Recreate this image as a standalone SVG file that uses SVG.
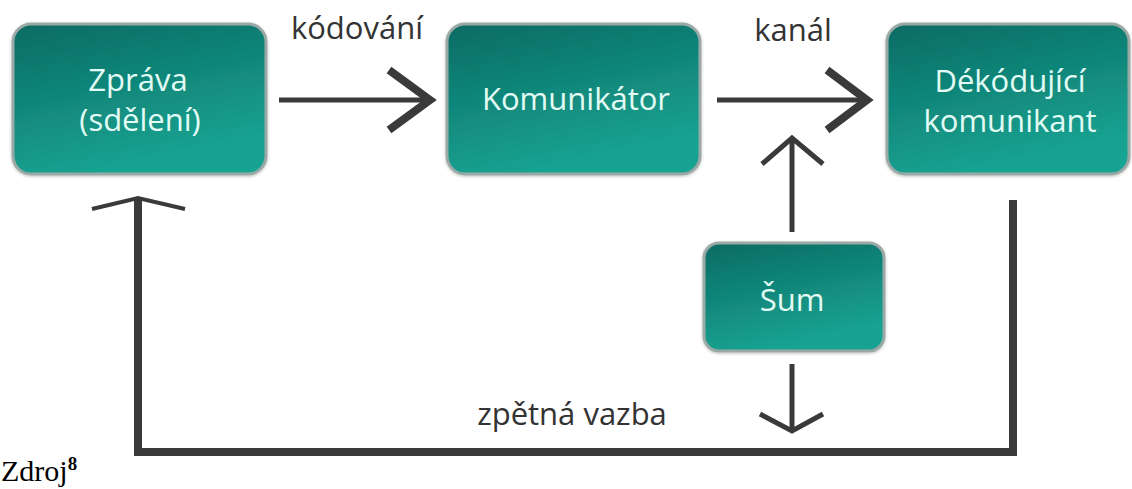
<svg xmlns="http://www.w3.org/2000/svg" width="1132" height="489" viewBox="0 0 1132 489">
  <defs>
    <linearGradient id="teal" x1="0" y1="0" x2="0.35" y2="1">
      <stop offset="0" stop-color="#0c6b63"/>
      <stop offset="1" stop-color="#16a392"/>
    </linearGradient>
    <filter id="soft" x="-10%" y="-10%" width="120%" height="120%">
      <feGaussianBlur in="SourceAlpha" stdDeviation="1.5"/>
      <feOffset dx="0" dy="1" result="b"/>
      <feFlood flood-color="#000" flood-opacity="0.25"/>
      <feComposite in2="b" operator="in"/>
      <feMerge><feMergeNode/><feMergeNode in="SourceGraphic"/></feMerge>
    </filter>
  </defs>
  <style>
    .box { fill: url(#teal); stroke: #9aa9a6; stroke-width: 3; filter: url(#soft); }
    .lbl { font-family: "Open Sans", "Noto Sans", sans-serif; font-size: 31px; fill: #e2fcf5; text-anchor: middle; }
    .txt { font-family: "Open Sans", "Noto Sans", sans-serif; font-size: 31px; fill: #333333; text-anchor: middle; }
    .ln { fill: none; stroke: #3a3a3a; stroke-width: 5; }
    .head { fill: none; stroke: #3a3a3a; stroke-width: 8; stroke-linejoin: miter; }
    .head-thin { fill: none; stroke: #3a3a3a; stroke-width: 5; stroke-linejoin: miter; }
    .src { font-family: "Liberation Serif", "Times New Roman", serif; font-size: 30px; fill: #000; }
  </style>
  <rect width="1132" height="489" fill="#ffffff"/>

  <!-- connectors -->
  <g id="connectors">
    <!-- message to communicator -->
    <line class="ln" x1="279" y1="100" x2="428" y2="100"/>
    <polyline class="head" points="389,70 430,100 389,130"/>
    <!-- channel -->
    <line class="ln" x1="717" y1="100" x2="864" y2="100"/>
    <polyline class="head" points="827,70 867,100 827,130"/>
    <!-- noise into channel -->
    <line class="ln" x1="792" y1="232" x2="792" y2="139"/>
    <polyline class="head-thin" points="762,164 792,138 823,164"/>
    <!-- noise into feedback -->
    <line class="ln" x1="792" y1="364" x2="792" y2="430"/>
    <polyline class="head-thin" points="760,414 792,431 823,414"/>
    <!-- feedback loop -->
    <polyline fill="none" stroke="#3a3a3a" stroke-width="8" stroke-linejoin="miter" points="1013,200 1013,452 138,452 138,199"/>
    <polyline fill="none" stroke="#3a3a3a" stroke-width="4" stroke-linejoin="miter" points="92,209 138,198 185,209"/>
    <text class="txt" x="357" y="39">kódování</text>
    <text class="txt" x="793" y="41">kanál</text>
    <text class="txt" x="572" y="425">zpětná vazba</text>
  </g>

  <g id="zprava">
    <rect class="box" x="13" y="24" width="253" height="150" rx="18"/>
    <text class="lbl" x="138" y="91">Zpráva</text>
    <text class="lbl" x="140" y="131">(sdělení)</text>
  </g>

  <g id="komunikator">
    <rect class="box" x="447" y="24" width="253" height="150" rx="18"/>
    <text class="lbl" x="576" y="110">Komunikátor</text>
  </g>

  <g id="dekodujici">
    <rect class="box" x="887" y="24" width="242" height="150" rx="18"/>
    <text class="lbl" x="1010" y="92">Dékódující</text>
    <text class="lbl" x="1010" y="132">komunikant</text>
  </g>

  <g id="sum">
    <rect class="box" x="704" y="243" width="180" height="108" rx="15"/>
    <text class="lbl" x="792" y="311">Šum</text>
  </g>

  <text class="src" x="1" y="481">Zdroj<tspan font-weight="bold" font-size="19" dy="-11">8</tspan></text>
</svg>
